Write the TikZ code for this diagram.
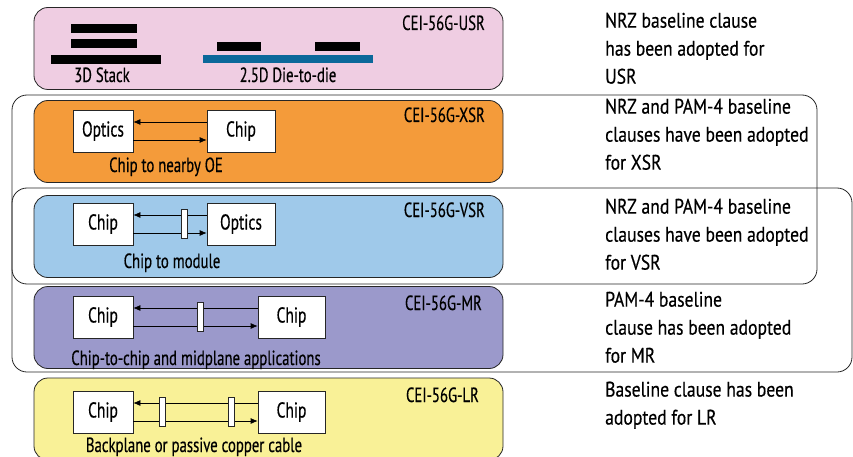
\documentclass[tikz,border=0pt]{standalone}
\usepackage{fontspec}
\setmainfont[FakeStretch=0.84, FakeBold=0.4]{PT Sans}
\newfontfamily\condensed[FakeStretch=0.72, FakeBold=0.4]{PT Sans}
\usetikzlibrary{positioning, arrows.meta}
\definecolor{usrpink}{HTML}{EFCDE2}
\definecolor{xsrorange}{HTML}{F49B3A}
\definecolor{vsrblue}{HTML}{9FC9EA}
\definecolor{mrpurple}{HTML}{9B99CB}
\definecolor{lryellow}{HTML}{F9F197}
\definecolor{interposer}{HTML}{0B689A}

\begin{document}
\begin{tikzpicture}[x=1pt, y=-1pt,
					band/.style={rectangle, rounded corners=14pt, draw=black!85, line width=0.8pt, minimum width=469pt, minimum height=82pt},
					group/.style={rectangle, rounded corners=15pt, draw=black!85, line width=0.8pt},
					chipbox/.style={rectangle, draw=black!85, line width=0.7pt, fill=white, minimum width=60pt, minimum height=42pt, font=\condensed\fontsize{21.5}{24}\selectfont},
					plug/.style={rectangle, draw=black!85, line width=0.7pt, fill=white, minimum width=6pt, minimum height=29pt, inner sep=0pt},
					bar/.style={rectangle, fill=black, inner sep=0pt, minimum height=9pt},
					std/.style={anchor=base east, inner sep=0pt, font=\condensed\fontsize{20.5}{24}\selectfont},
					caption/.style={anchor=base, inner sep=0pt, font=\condensed\fontsize{20.5}{24}\selectfont},
					note/.style={anchor=north west, align=left, inner sep=0pt, font=\fontsize{21}{28}\selectfont}
				]
				\clip (0,0) rectangle (853,457);
				% grouping frames
				\node[group, minimum width=805pt, minimum height=189pt] (xsrvsrgroup) at (414.5,189.5) {};
				\node[group, minimum width=840pt, minimum height=184pt] (vsrmrgroup) at (432,280) {};
				% bands
				\node[band, fill=usrpink] (usr) at (268.5,48.5) {};
				\node[band, fill=xsrorange] (xsr) at (268.5,141.5) {};
				\node[band, fill=vsrblue] (vsr) at (268.5,236.5) {};
				\node[band, fill=mrpurple] (mr) at (268.5,327.5) {};
				\node[band, fill=lryellow] (lr) at (268.5,419) {};
				\node[std] (usrname) at (485,30) {CEI-56G-USR};
				\node[std] (xsrname) at (485,122) {CEI-56G-XSR};
				\node[std] (vsrname) at (485,217) {CEI-56G-VSR};
				\node[std] (mrname) at (482,310) {CEI-56G-MR};
				\node[std] (lrname) at (479,402) {CEI-56G-LR};
				% USR
				\node[bar, minimum width=66pt] (stacktop) at (104,28.5) {};
				\node[bar, minimum width=66pt] (stackmid) at (104,43.5) {};
				\node[bar, minimum width=110pt] (stackbase) at (106,59.5) {};
				\node[caption] (stacklabel) at (102,82) {3D Stack};
				\node[bar, minimum width=44pt] (dieleft) at (239,47) {};
				\node[bar, minimum width=45pt] (dieright) at (337.5,47) {};
				\node[bar, fill=interposer, minimum width=170pt, minimum height=8pt] (interposer) at (288,59) {};
				\node[caption] (dielabel) at (288,82) {2.5D Die-to-die};
				% XSR
				\node[chipbox] (xsroptics) at (103,131) {Optics};
				\node[chipbox, minimum width=68pt] (xsrchip) at (241,131) {Chip};
				\node[caption] (xsrlabel) at (166,172) {Chip to nearby OE};
				% VSR
				\node[chipbox] (vsrchip) at (103,224) {Chip};
				\node[chipbox, minimum width=68pt] (vsroptics) at (241,224) {Optics};
				\node[caption] (vsrlabel) at (172,268) {Chip to module};
				% MR
				\node[chipbox] (mrleft) at (103,317) {Chip};
				\node[chipbox, minimum width=67pt] (mrright) at (291.5,317) {Chip};
				\node[caption] (mrlabel) at (196,365) {Chip-to-chip and midplane applications};
				% LR
				\node[chipbox] (lrleft) at (103,412) {Chip};
				\node[chipbox, minimum width=67pt] (lrright) at (291.5,412) {Chip};
				\node[caption] (lrlabel) at (194,452) {Backplane or passive copper cable};
				\begin{scope}[line width=0.7pt, -{Latex[length=7pt, width=6pt]}]
				\draw ([yshift=9pt]xsrchip.west) -- ([yshift=9pt]xsroptics.east);
				\draw ([yshift=-9pt]xsroptics.east) -- ([yshift=-9pt]xsrchip.west);
				\draw ([yshift=9pt]vsroptics.west) -- ([yshift=9pt]vsrchip.east);
				\draw ([yshift=-9pt]vsrchip.east) -- ([yshift=-9pt]vsroptics.west);
				\draw ([yshift=9pt]mrright.west) -- ([yshift=9pt]mrleft.east);
				\draw ([yshift=-9pt]mrleft.east) -- ([yshift=-9pt]mrright.west);
				\draw ([yshift=9pt]lrright.west) -- ([yshift=9pt]lrleft.east);
				\draw ([yshift=-9pt]lrleft.east) -- ([yshift=-9pt]lrright.west);
				\end{scope}
				\node[plug] (vsrplug) at (184,224) {};
				\node[plug] (mrplug) at (200,317) {};
				\node[plug] (lrplugleft) at (162,412) {};
				\node[plug] (lrplugright) at (231.5,412) {};
				% notes
				\node[note] (usrnote) at (605,12.5) {NRZ baseline clause\\has been adopted for\\USR};
				\node[note] (xsrnote) at (605,98.5) {NRZ and PAM-4 baseline\\clauses have been adopted\\for XSR};
				\node[note] (vsrnote) at (605,198.5) {NRZ and PAM-4 baseline\\clauses have been adopted\\for VSR};
				\node[note] (mrnote) at (605,291.5) {PAM-4 baseline\\clause has been adopted\\for MR};
				\node[note] (lrnote) at (605,381.5) {Baseline clause has been\\adopted for LR};
				\end{tikzpicture}
\end{document}
